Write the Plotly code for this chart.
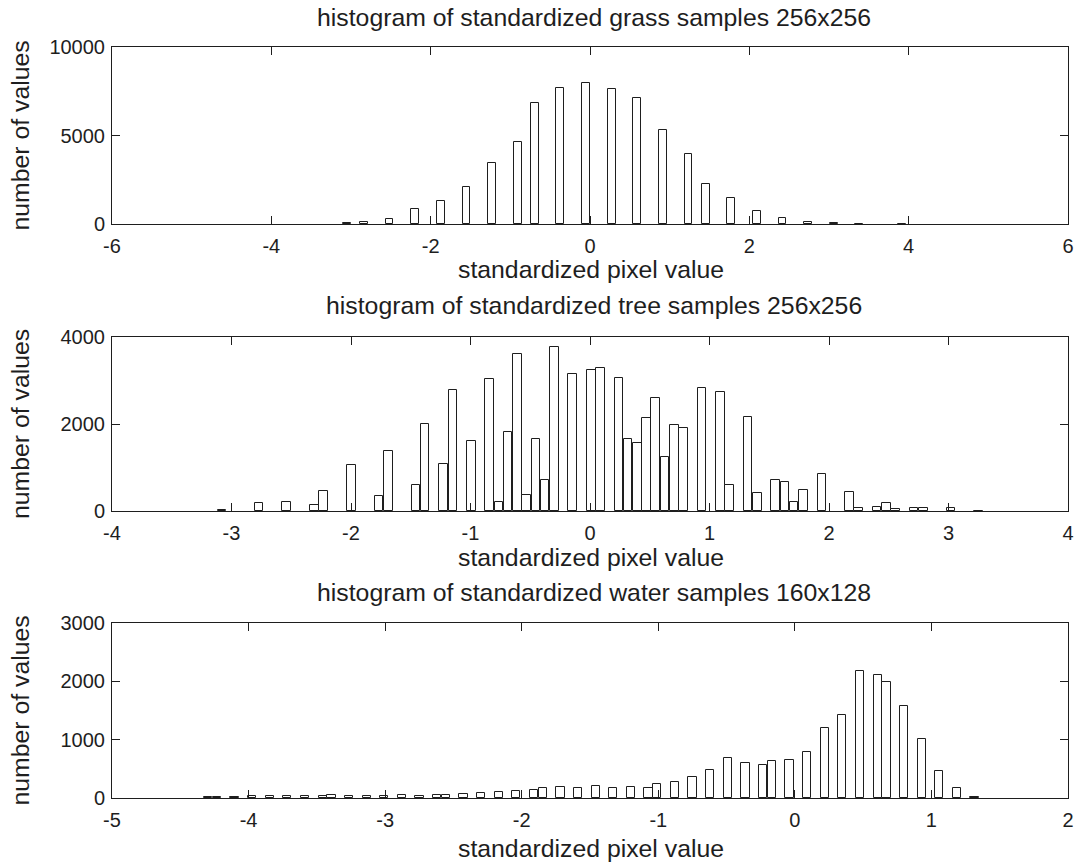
import plotly.graph_objects as go

W, H = 1079, 865
L, R = 112, 1068  # plot area left/right in px

# ---------------- data ----------------
grass_x = [-3.052, -2.838, -2.516, -2.194, -1.872, -1.551, -1.229, -0.908, -0.693,
           -0.372, -0.050, 0.272, 0.593, 0.915, 1.236, 1.451, 1.772, 2.094, 2.416,
           2.737, 3.059, 3.380, 3.916]
grass_n = [30, 113, 264, 828, 1300, 2109, 3465, 4632, 6816,
           7664, 7980, 7650, 7099, 5310, 3973, 2241, 1450, 734, 358,
           132, 38, 20, 10]

tree_x = [-3.078, -2.769, -2.538, -2.306, -2.229, -1.997, -1.766, -1.688, -1.457, -1.380,
          -1.225, -1.148, -0.994, -0.839, -0.762, -0.685, -0.608, -0.530, -0.453, -0.376,
          -0.299, -0.144, 0.010, 0.087, 0.242, 0.319, 0.396, 0.473, 0.550, 0.628,
          0.705, 0.782, 0.936, 1.091, 1.168, 1.322, 1.400, 1.554, 1.631, 1.708,
          1.786, 1.940, 2.172, 2.249, 2.403, 2.480, 2.558, 2.712, 2.789, 3.021, 3.252]
tree_n = [20, 180, 200, 145, 452, 1065, 335, 1385, 600, 2000,
          1090, 2777, 1605, 3040, 208, 1812, 3612, 372, 1648, 705,
          3760, 3140, 3250, 3295, 3050, 1655, 1563, 2145, 2590, 1242,
          1970, 1916, 2820, 2745, 598, 2161, 421, 713, 674, 215,
          483, 843, 445, 77, 92, 192, 54, 77, 62, 77, 8]

water_x = [-4.296, -4.231, -4.103, -3.974, -3.845, -3.716, -3.587, -3.458, -3.393, -3.264,
           -3.135, -3.006, -2.877, -2.748, -2.619, -2.555, -2.426, -2.297, -2.168, -2.039,
           -1.910, -1.845, -1.716, -1.587, -1.458, -1.329, -1.200, -1.071, -1.007, -0.878,
           -0.749, -0.620, -0.491, -0.362, -0.233, -0.168, -0.039, 0.090, 0.219, 0.348,
           0.477, 0.606, 0.671, 0.800, 0.929, 1.058, 1.187, 1.316]
water_n = [15, 15, 20, 35, 40, 35, 40, 30, 45, 40,
           40, 30, 45, 40, 50, 60, 65, 90, 105, 120,
           135, 165, 195, 175, 205, 180, 190, 180, 245, 275,
           355, 475, 680, 595, 571, 630, 660, 790, 1195, 1430,
           2177, 2117, 1990, 1577, 1008, 463, 180, 20]

titles = ["histogram of standardized grass samples 256x256",
          "histogram of standardized tree samples 256x256",
          "histogram of standardized water samples 160x128"]
xlabel = "standardized pixel value"
ylabel = "number of values"

x_ticks = [[-6, -4, -2, 0, 2, 4, 6], [-4, -3, -2, -1, 0, 1, 2, 3, 4], [-5, -4, -3, -2, -1, 0, 1, 2]]
y_ticks = [[0, 5000, 10000], [0, 2000, 4000], [0, 1000, 2000, 3000]]
bin_w = [0.098, 0.072, 0.060]

# ---------------- layout geometry (px) ----------------
panels_px = [(47, 224), (337, 511), (623, 798)]
title_y = [18, 305, 592]
xlab_y = [270, 557, 848]

INK = "#1e1e1e"
FONT = "Liberation Sans, Arial, Helvetica, sans-serif"
TICK_SIZE = 20
LAB_SIZE = 24.8


def py(y):
    return 1 - y / H


def px(x):
    return (x - L) / (R - L)


fig = go.Figure()
series = [(grass_x, grass_n), (tree_x, tree_n), (water_x, water_n)]
for i, (xs, ns) in enumerate(series):
    sfx = "" if i == 0 else str(i + 1)
    fig.add_trace(go.Bar(
        x=xs, y=ns, width=bin_w[i],
        marker=dict(color="white", line=dict(color=INK, width=1)),
        xaxis="x" + sfx, yaxis="y" + sfx, showlegend=False, hoverinfo="x+y"))

layout = dict(
    template="none",
    width=W, height=H,
    margin=dict(l=L, r=W - R, t=0, b=0, pad=0, autoexpand=False),
    paper_bgcolor="white", plot_bgcolor="white",
    font=dict(family=FONT, color=INK, size=TICK_SIZE),
    bargap=0, showlegend=False,
)
annotations = []
for i in range(3):
    sfx = "" if i == 0 else str(i + 1)
    top, bot = panels_px[i]
    xt = x_ticks[i]
    yt = y_ticks[i]
    layout["xaxis" + sfx] = dict(
        domain=[0, 1], anchor="y" + sfx, range=[xt[0], xt[-1]], automargin=False,
        tickmode="array", tickvals=xt, ticktext=[str(v) for v in xt],
        ticks="inside", ticklen=8, tickcolor=INK, tickwidth=1,
        showline=True, linecolor=INK, linewidth=1, mirror="ticks",
        showgrid=False, zeroline=False, ticklabelstandoff=4,
        tickfont=dict(size=TICK_SIZE, family=FONT, color=INK))
    layout["yaxis" + sfx] = dict(
        domain=[py(bot), py(top)], anchor="x" + sfx, range=[0, yt[-1]], automargin=False,
        tickmode="array", tickvals=yt, ticktext=[str(v) for v in yt],
        ticks="inside", ticklen=8, tickcolor=INK, tickwidth=1,
        showline=True, linecolor=INK, linewidth=1, mirror="ticks",
        showgrid=False, zeroline=False, ticklabelstandoff=2,
        tickfont=dict(size=TICK_SIZE, family=FONT, color=INK))
    annotations.append(dict(text=titles[i], xref="paper", yref="paper",
                            x=px(594), y=py(title_y[i]), showarrow=False,
                            xanchor="center", yanchor="middle",
                            font=dict(size=LAB_SIZE, family=FONT, color=INK)))
    annotations.append(dict(text=xlabel, xref="paper", yref="paper",
                            x=px(591), y=py(xlab_y[i]), showarrow=False,
                            xanchor="center", yanchor="middle",
                            font=dict(size=LAB_SIZE, family=FONT, color=INK)))
    annotations.append(dict(text=ylabel, xref="paper", yref="paper",
                            x=px(20), y=py((top + bot) / 2), showarrow=False,
                            textangle=-90, xanchor="center", yanchor="middle",
                            font=dict(size=LAB_SIZE, family=FONT, color=INK)))
layout["annotations"] = annotations
fig.update_layout(**layout)
fig.write_html("out.html")
